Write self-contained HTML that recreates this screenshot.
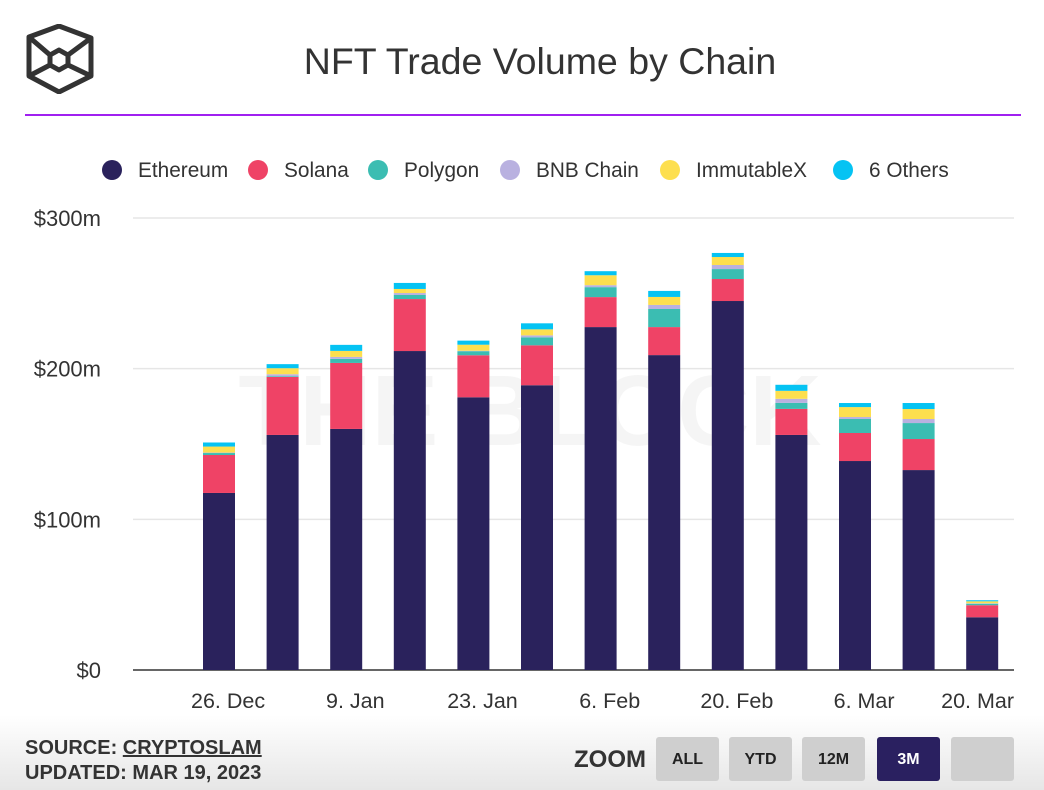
<!DOCTYPE html>
<html><head><meta charset="utf-8"><style>
body{margin:0;width:1044px;height:790px;overflow:hidden;background:#fff;font-family:"Liberation Sans",sans-serif;position:relative}
.footer{position:absolute;left:0;top:715px;width:1044px;height:75px;background:linear-gradient(#fff,#e6e6e6)}
.ft{position:absolute;font-family:"Liberation Sans Narrow","Liberation Sans",sans-serif;font-weight:bold;color:#333;font-size:20px}
.btn{position:absolute;top:737px;width:63px;height:44px;background:#cfcfcf;border-radius:3px;font-family:"Liberation Sans Narrow","Liberation Sans",sans-serif;font-weight:bold;font-size:16px;color:#222;text-align:center;line-height:46px}
</style></head><body>
<svg style="position:absolute;left:26px;top:24px" width="68" height="70" viewBox="0 0 68 70">
<g fill="none" stroke="#333" stroke-width="5" stroke-linejoin="round">
<polygon points="33,2 65,14 65,52 33,68 3,52 3,13"/>
<polygon points="33,26 42,31 42,41 33,46 24,41 24,31"/>
<line x1="3" y1="13" x2="24" y2="31"/><line x1="65" y1="14" x2="42" y2="31"/>
<line x1="3" y1="52" x2="24" y2="41"/><line x1="65" y1="52" x2="42" y2="41"/>
</g></svg>
<div style="position:absolute;left:0;width:1080px;top:40px;text-align:center;font-size:37.5px;color:#333">NFT Trade Volume by Chain</div>
<div style="position:absolute;left:25px;top:114px;width:996px;height:2px;background:#a020f0"></div>
<svg id="chart" style="position:absolute;left:0;top:0" width="1044" height="715"></svg>
<div class="footer"></div>
<div class="ft" style="left:25px;top:737px">SOURCE: <span style="text-decoration:underline">CRYPTOSLAM</span></div>
<div class="ft" style="left:25px;top:762px">UPDATED: MAR 19, 2023</div>
<div class="ft" style="left:574px;top:746px;font-size:24px">ZOOM</div>
<div class="btn" style="left:656px">ALL</div>
<div class="btn" style="left:729px">YTD</div>
<div class="btn" style="left:802px">12M</div>
<div class="btn" style="left:877px;background:#2a2060;color:#fff">3M</div>
<div class="btn" style="left:951px"></div>
<script>
const seriesNames=["Ethereum","Solana","Polygon","BNB Chain","ImmutableX","6 Others"];
const seriesColors=["#2a225c","#ef4366","#3bbdb2","#b9b1e0","#fddf4f","#05c3f3"];
const barDays=[0,7,14,21,28,35,42,49,56,63,70,77,84];
const ethereum=[117.5,156,160,211.7,181,189,227.6,209,244.9,156,138.7,132.7,35];
const solana=[25.2,38.5,43.8,34.5,27.9,26.5,19.9,18.6,14.6,17.3,18.6,20.6,8];
const polygon=[1.3,0.5,2.7,2.7,2.7,5.3,6.6,12,6.6,4,9.3,10.6,1];
const bnb=[0.3,1.3,1.3,1.3,0.3,1.3,1.3,2.7,2.7,2.7,1.3,2.7,0.3];
const immutablex=[4,4,4,2.7,4,4,6.6,5.3,5.3,5.3,6.6,6.6,1.3];
const others=[2.7,2.7,4,4,2.7,4,2.7,4,2.7,4,2.7,4,0.7];
const yTicks=[0,100,200,300];
const yTickLabels=["$0","$100m","$200m","$300m"];
const xTickDays=[1,15,29,43,57,71,85];
const xTickLabels=["26. Dec","9. Jan","23. Jan","6. Feb","20. Feb","6. Mar","20. Mar"];
const series=[ethereum,solana,polygon,bnb,immutablex,others];
const NS="http://www.w3.org/2000/svg";
const svg=document.getElementById('chart');
const y=v=>670-v*(452/300);
const x=d=>219+d*(63.6/7);
function mk(t,a,txt){const e=document.createElementNS(NS,t);for(const k in a)e.setAttribute(k,a[k]);if(txt!=null)e.textContent=txt;svg.appendChild(e);return e;}
let wm=mk('text',{x:530,y:445,'text-anchor':'middle','font-size':100,'font-family':'Liberation Sans, sans-serif','font-weight':'bold',fill:'#000','fill-opacity':0.04},'THE BLOCK');


yTicks.forEach((t,i)=>{
  let g=mk('line',{x1:133,x2:1014,y1:y(t),y2:y(t),stroke:i==0?'#333':'#e6e6e6','stroke-width':1.5});
  
  
  let l=mk('text',{x:101,y:y(t)+8,'text-anchor':'end','font-size':22,fill:'#333'},yTickLabels[i]);
  
  
});
xTickDays.forEach((d,i)=>{
  const last=i==xTickDays.length-1;
  let l=mk('text',{x:last?1014:x(d),y:708,'text-anchor':last?'end':'middle','font-size':21.5,fill:'#333'},xTickLabels[i]);
  
  
});
barDays.forEach((d,i)=>{
  let base=0;
  series.forEach((s,j)=>{
    const v=s[i];
    const r=mk('rect',{x:x(d)-16,width:32,y:y(base+v),height:y(base)-y(base+v),fill:seriesColors[j]});
    
    
    base+=v;
  });
});
const legX=[112,258,378,510,670,843];
seriesNames.forEach((n,i)=>{
  const c=mk('circle',{cx:legX[i],cy:170,r:10,fill:seriesColors[i]});
  
  
  const t=mk('text',{x:legX[i]+26,y:177,'font-size':20.8,fill:'#333'},n);
  
  
});
</script>
</body></html>
